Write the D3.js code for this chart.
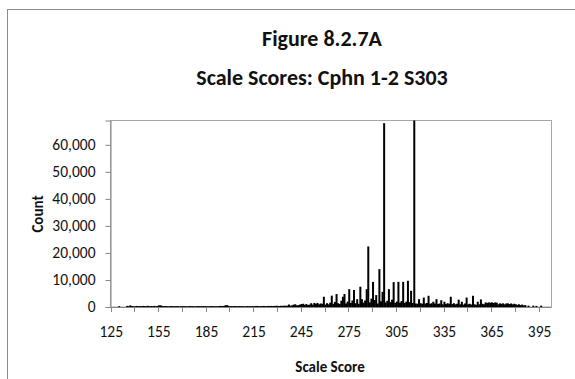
<!DOCTYPE html>
<html>
<head>
<meta charset="utf-8">
<script src="https://cdn.jsdelivr.net/npm/d3@7"></script>
<style>
  body { margin: 0; background: #fff; }
  svg { display: block; font-family: Carlito, Lato, "Liberation Sans", sans-serif; }
</style>
</head>
<body>
<div id="chart"></div>
<script>
// Scale score categories (every integer from first to last score)
const firstScore = 125;
const lastScore = 402;
const scores = d3.range(firstScore, lastScore + 1);

// Count of students per scale score (rows of 10 starting at the score in the comment)
const counts = [
  0, 0, 0, 0, 0, 300, 0, 0, 0, 0,                               // 125
  400, 300, 600, 350, 300, 250, 400, 300, 350, 300,             // 135
  400, 350, 300, 450, 300, 350, 300, 400, 300, 350,             // 145
  600, 650, 400, 300, 350, 300, 250, 300, 350, 300,             // 155
  300, 350, 300, 250, 300, 350, 300, 300, 250, 300,             // 165
  350, 300, 300, 250, 300, 350, 300, 300, 350, 300,             // 175
  300, 250, 300, 350, 300, 300, 250, 300, 350, 400,             // 185
  350, 400, 650, 700, 400, 300, 350, 300, 350, 300,             // 195
  300, 350, 300, 300, 250, 300, 350, 300, 300, 350,             // 205
  300, 350, 400, 300, 350, 300, 400, 350, 300, 400,             // 215
  350, 400, 350, 400, 450, 400, 350, 450, 400, 500,             // 225
  450, 500, 900, 500, 600, 900, 1000, 600, 700, 900,            // 235
  1100, 1200, 800, 1100, 700, 900, 1400, 900, 1500, 1200,       // 245
  1500, 1000, 1300, 1200, 3800, 900, 1400, 1000, 1600, 4200,    // 255
  1200, 1900, 4800, 1400, 1100, 2300, 3800, 4800, 1300, 2000,   // 265
  6600, 1500, 2400, 6300, 1400, 2900, 1200, 7500, 2900, 1600,   // 275
  2400, 6600, 22400, 1700, 3100, 9300, 2600, 4400, 1300, 14000, // 285
  2100, 5600, 68000, 1700, 2300, 6600, 1800, 2700, 9200, 1500,  // 295
  2000, 9300, 1600, 2200, 9300, 1500, 2000, 9700, 1800, 6000,   // 305
  1500, 69000, 1300, 1200, 2900, 1400, 1200, 3500, 1300, 1500,  // 315
  4150, 1200, 1400, 1950, 1300, 2900, 1100, 1300, 2500, 1000,   // 325
  1950, 1100, 1400, 1200, 3800, 1100, 1400, 1000, 1200, 2700,   // 335
  1000, 1950, 900, 1300, 3500, 1000, 1200, 900, 4150, 1000,     // 345
  800, 1950, 1000, 2800, 1200, 1000, 1700, 1500, 1700, 1600,    // 355
  1700, 1500, 1700, 1600, 1000, 1350, 1200, 1350, 1000, 1300,   // 365
  1350, 1100, 1300, 1000, 1200, 1000, 800, 1000, 700, 900,      // 375
  600, 700, 0, 500, 0, 0, 500, 0, 400, 0,                       // 385
  0, 500, 0, 0, 0, 0, 0, 0                                      // 395
];

const yTicks = [0, 10000, 20000, 30000, 40000, 50000, 60000];
const yMax = 69000;
const tickEvery = 15;   // tick marks every 15 categories
const labelEvery = 30;  // labels every 30 categories

const titleLines = ['Figure 8.2.7A', 'Scale Scores: Cphn 1-2 S303'];
const xTitle = 'Scale Score';
const yTitle = 'Count';

const data = scores.map((s, i) => ({ score: s, count: counts[i] }));

const W = 575, H = 379;
const plot = { left: 110.5, right: 551.5, top: 120.5, bottom: 307 };
const axisColor = '#868686';
const textColor = '#111';

const svg = d3.select('#chart').append('svg')
  .attr('width', W)
  .attr('height', H);

// chart area border (runs past the right and bottom edges)
svg.append('rect')
  .attr('x', 7.5).attr('y', 9.5)
  .attr('width', 700).attr('height', 500)
  .attr('fill', '#fff')
  .attr('stroke', '#8c8c8c');

// title
svg.append('text')
  .attr('x', 322).attr('text-anchor', 'middle')
  .attr('fill', textColor)
  .style('font-weight', 'bold').style('font-size', '22px')
  .selectAll('tspan')
  .data(titleLines)
  .enter().append('tspan')
  .attr('x', 322)
  .attr('y', (d, i) => 46 + i * 39)
  .text(d => d);

const x = d3.scaleBand()
  .domain(scores)
  .range([plot.left, plot.right])
  .paddingInner(0)
  .paddingOuter(0);

const y = d3.scaleLinear()
  .domain([0, yMax])
  .range([plot.bottom, plot.top]);

// plot area border
svg.append('rect')
  .attr('x', plot.left).attr('y', plot.top)
  .attr('width', plot.right - plot.left)
  .attr('height', plot.bottom - plot.top)
  .attr('fill', 'none')
  .attr('stroke', '#a6a6a6');

// bars
const barW = 2;
svg.append('g')
  .selectAll('rect')
  .data(data.filter(d => d.count > 0))
  .enter().append('rect')
  .attr('x', d => x(d.score) + (x.bandwidth() - barW) / 2)
  .attr('y', d => y(Math.min(d.count, yMax)))
  .attr('width', barW)
  .attr('height', d => plot.bottom - y(Math.min(d.count, yMax)))
  .attr('fill', '#000');

// y axis
const yAxis = svg.append('g')
  .attr('transform', `translate(${plot.left},0)`)
  .attr('font-size', null)
  .attr('font-family', null)
  .call(d3.axisLeft(y).tickValues(yTicks).tickSize(5).tickPadding(10)
    .tickFormat(d3.format(',.0f')));
yAxis.select('.domain').attr('stroke', axisColor);
yAxis.selectAll('.tick line').attr('stroke', axisColor);
yAxis.attr('font-size', 15.5).attr('font-family', 'Carlito, Lato, sans-serif');
yAxis.selectAll('.tick text').attr('fill', textColor);

// x axis (tick marks between categories, labels on categories)
const xAxis = svg.append('g');
xAxis.append('line')
  .attr('x1', plot.left).attr('x2', plot.right)
  .attr('y1', plot.bottom + 0.5).attr('y2', plot.bottom + 0.5)
  .attr('stroke', axisColor);
xAxis.selectAll('.xtick')
  .data(scores.filter((s, i) => i % tickEvery === 0))
  .enter().append('line')
  .attr('class', 'xtick')
  .attr('x1', d => Math.round(x(d)) + 0.5)
  .attr('x2', d => Math.round(x(d)) + 0.5)
  .attr('y1', plot.bottom)
  .attr('y2', plot.bottom + 5)
  .attr('stroke', axisColor);
xAxis.selectAll('.xlabel')
  .data(scores.filter((s, i) => i % labelEvery === 0))
  .enter().append('text')
  .attr('class', 'xlabel')
  .attr('x', d => x(d) + x.bandwidth() / 2)
  .attr('y', plot.bottom + 30)
  .attr('text-anchor', 'middle')
  .attr('fill', textColor)
  .attr('font-size', 15.5)
  .text(d => d);

// axis titles
svg.append('text')
  .attr('x', 330).attr('y', 372)
  .attr('text-anchor', 'middle')
  .attr('fill', textColor)
  .attr('font-weight', 'bold').attr('font-size', 15)
  .text(xTitle);

svg.append('text')
  .attr('transform', `translate(43,214) rotate(-90)`)
  .attr('text-anchor', 'middle')
  .attr('fill', textColor)
  .attr('font-weight', 'bold').attr('font-size', 15)
  .text(yTitle);
</script>
</body>
</html>
